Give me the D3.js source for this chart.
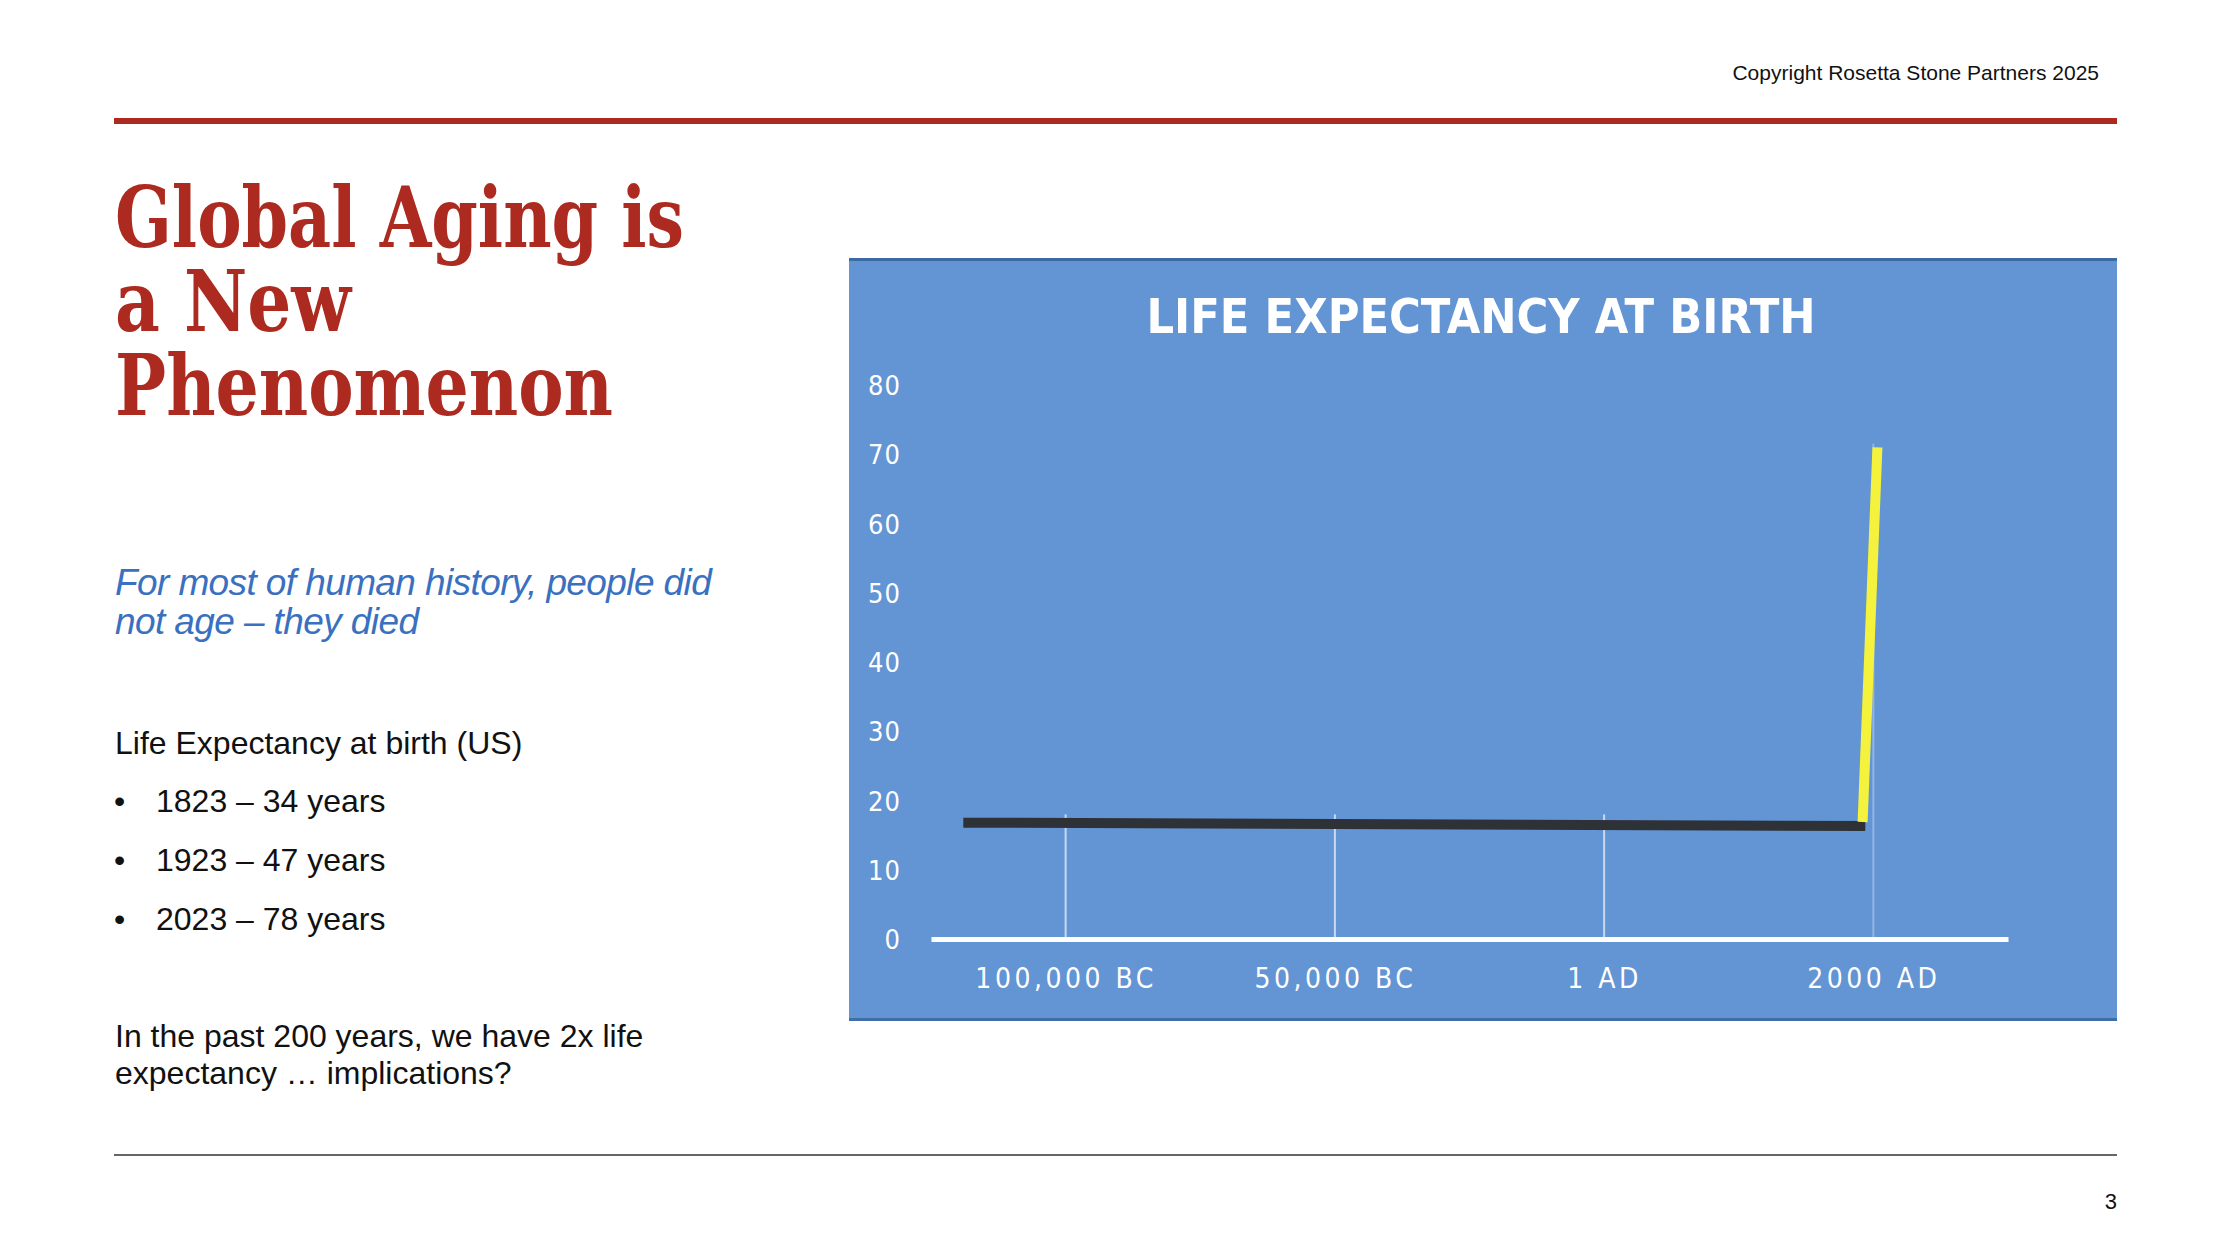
<!DOCTYPE html>
<html>
<head>
<meta charset="utf-8">
<script src="https://cdn.jsdelivr.net/npm/d3@7"></script>
<style>
  html, body { margin: 0; padding: 0; background: #fff; }
  svg { display: block; }
  .body-text { font-family: 'Liberation Sans', Arial, sans-serif; fill: #111; }
  .chart-text { font-family: 'DejaVu Sans Condensed', 'DejaVu Sans', sans-serif; font-stretch: condensed; fill: #fff; }
</style>
</head>
<body>
<script>
// chart values
var categories = ['100,000 BC', '50,000 BC', '1 AD', '2000 AD']
var yTicks = [0, 10, 20, 30, 40, 50, 60, 70, 80]
// [position in category steps, life expectancy in years]
var prehistoric = [[-0.38, 16.8], [2.97, 16.3]]
var modern = [[2.96, 16.9], [3.015, 71]]
var dropLines = [18, 18, 18, 71.5]

var titleLines = ['Global Aging is', 'a New', 'Phenomenon']
var subtitleLines = ['For most of human history, people did', 'not age \u2013 they died']
var usYears = ['1823', '1923', '2023']
var usExpectancy = [34, 47, 78]
var closingLines = ['In the past 200 years, we have 2x life', 'expectancy \u2026 implications?']

var width = 2230
var height = 1254
var red = '#ad2a20'

var svg = d3.select('body').append('svg')
    .attr('width', width)
    .attr('height', height)

svg.append('rect')
    .attr('width', width)
    .attr('height', height)
    .attr('fill', '#fff')

// header
svg.append('text')
    .attr('class', 'body-text')
    .attr('x', 2099)
    .attr('y', 80)
    .attr('text-anchor', 'end')
    .style('font-size', '21px')
    .text('Copyright Rosetta Stone Partners 2025')

svg.append('rect')
    .attr('x', 114)
    .attr('y', 118)
    .attr('width', 2003)
    .attr('height', 6)
    .attr('fill', red)

// title, one text block with a line per tspan
var titleWidths = [569, 236, 498]
svg.append('text')
    .style('font-family', "'DejaVu Serif Condensed', 'DejaVu Serif', serif")
    .style('font-stretch', 'condensed')
    .style('font-weight', 'bold')
    .style('font-size', '84px')
    .style('fill', red)
    .selectAll('tspan')
    .data(titleLines)
    .enter().append('tspan')
    .attr('x', 115)
    .attr('y', function(d, i) { return 247 + i * 84 })
    .attr('textLength', function(d, i) { return titleWidths[i] })
    .attr('lengthAdjust', 'spacingAndGlyphs')
    .text(function(d) { return d })

svg.append('text')
    .style('font-family', "'Liberation Sans', Arial, sans-serif")
    .style('font-style', 'italic')
    .style('font-size', '37px')
    .style('letter-spacing', '-0.6px')
    .style('fill', '#3a70c0')
    .selectAll('tspan')
    .data(subtitleLines)
    .enter().append('tspan')
    .attr('x', 115)
    .attr('y', function(d, i) { return 595 + i * 39 })
    .text(function(d) { return d })

svg.append('text')
    .attr('class', 'body-text')
    .attr('x', 115)
    .attr('y', 754)
    .style('font-size', '32px')
    .text('Life Expectancy at birth (US)')

var bullets = svg.append('g')
    .selectAll('g')
    .data(usYears)
    .enter().append('g')
    .attr('transform', function(d, i) { return 'translate(0,' + (812 + i * 59) + ')' })

bullets.append('text')
    .attr('class', 'body-text')
    .attr('x', 114)
    .style('font-size', '32px')
    .text('\u2022')

bullets.append('text')
    .attr('class', 'body-text')
    .attr('x', 156)
    .style('font-size', '32px')
    .text(function(d, i) { return d + ' \u2013 ' + usExpectancy[i] + ' years' })

svg.append('text')
    .attr('class', 'body-text')
    .style('font-size', '32px')
    .selectAll('tspan')
    .data(closingLines)
    .enter().append('tspan')
    .attr('x', 115)
    .attr('y', function(d, i) { return 1047 + i * 37 })
    .text(function(d) { return d })

// footer
svg.append('line')
    .attr('x1', 114)
    .attr('x2', 2117)
    .attr('y1', 1155)
    .attr('y2', 1155)
    .style('stroke', '#333')
    .style('stroke-width', 1.5)

svg.append('text')
    .attr('class', 'body-text')
    .attr('x', 2117)
    .attr('y', 1209)
    .attr('text-anchor', 'end')
    .style('font-size', '22px')
    .text('3')

// chart panel
var panel = svg.append('g').attr('class', 'panel')

panel.append('rect')
    .attr('x', 849)
    .attr('y', 258)
    .attr('width', 1268)
    .attr('height', 763)
    .attr('fill', '#6394d3')

panel.append('rect')
    .attr('x', 849)
    .attr('y', 258)
    .attr('width', 1268)
    .attr('height', 3)
    .attr('fill', '#3c6aa5')

panel.append('rect')
    .attr('x', 849)
    .attr('y', 1018)
    .attr('width', 1268)
    .attr('height', 3)
    .attr('fill', '#3f6ea9')

panel.append('text')
    .attr('class', 'chart-text')
    .attr('x', 1481)
    .attr('y', 333)
    .attr('text-anchor', 'middle')
    .attr('textLength', 669)
    .attr('lengthAdjust', 'spacingAndGlyphs')
    .style('font-size', '48px')
    .style('font-weight', 'bold')
    .text('LIFE EXPECTANCY AT BIRTH')

var x = d3.scaleLinear()
    .domain([-0.5, categories.length - 0.5])
    .range([931, 2008])

var y = d3.scaleLinear()
    .domain([0, 80])
    .range([939, 385])

var yAxis = panel.append('g')
    .attr('transform', 'translate(909,0)')
    .call(d3.axisLeft(y).tickValues(yTicks).tickSize(0).tickPadding(8))

yAxis.select('.domain').remove()
yAxis.selectAll('text')
    .attr('class', 'chart-text')
    .attr('dy', '0.36em')
    .style('font-size', '27px')
    .style('letter-spacing', '1px')
    .style('fill', '#fff')

// drop lines
panel.append('g')
    .selectAll('line')
    .data(dropLines)
    .enter().append('line')
    .attr('x1', function(d, i) { return x(i) })
    .attr('x2', function(d, i) { return x(i) })
    .attr('y1', y(0))
    .attr('y2', function(d) { return y(d) })
    .style('stroke', '#fff')
    .style('stroke-width', 2)
    .style('opacity', function(d, i) { return i === 3 ? 0.3 : 0.65 })

var xAxis = panel.append('g')
    .attr('transform', 'translate(0,' + y(0) + ')')
    .call(d3.axisBottom(x)
        .tickValues(d3.range(categories.length))
        .tickFormat(function(i) { return categories[i] })
        .tickSize(0)
        .tickSizeOuter(0))

xAxis.select('.domain')
    .style('stroke', '#fff')
    .style('stroke-width', 5)

xAxis.selectAll('text')
    .attr('class', 'chart-text')
    .attr('dy', null)
    .attr('y', 49)
    .style('font-size', '28px')
    .style('letter-spacing', '3.5px')
    .style('fill', '#fff')

var line = d3.line()
    .x(function(d) { return x(d[0]) })
    .y(function(d) { return y(d[1]) })

panel.append('path')
    .datum(prehistoric)
    .attr('d', line)
    .style('fill', 'none')
    .style('stroke', '#2e3136')
    .style('stroke-width', 10)

panel.append('path')
    .datum(modern)
    .attr('d', line)
    .style('fill', 'none')
    .style('stroke', '#f4f23c')
    .style('stroke-width', 10)
</script>
</body>
</html>
